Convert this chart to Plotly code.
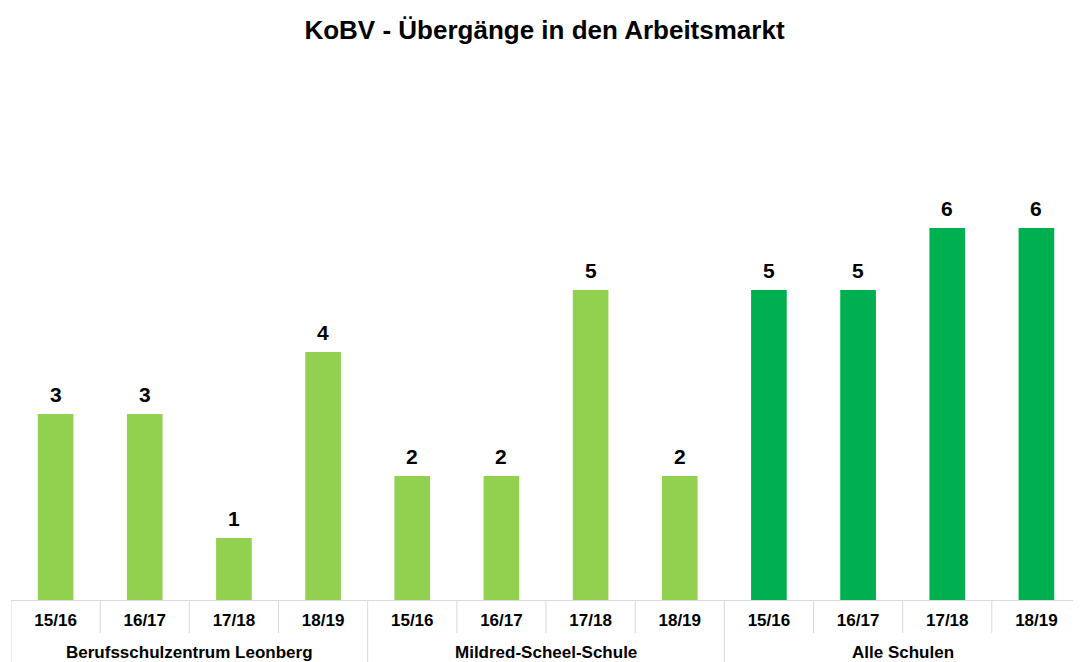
import plotly.graph_objects as go

# ---- data ----
groups = ["Berufsschulzentrum Leonberg", "Mildred-Scheel-Schule", "Alle Schulen"]
years = ["15/16", "16/17", "17/18", "18/19"]
values_bsz = [3, 3, 1, 4]
values_mss = [2, 2, 5, 2]
values_all = [5, 5, 6, 6]
title_text = "KoBV - Übergänge in den Arbeitsmarkt"

LIGHT = "#92D050"
DARK = "#00B050"
GRID = "#D9D9D9"
FONT = "Liberation Sans"

all_values = values_bsz + values_mss + values_all
tick_labels = years * len(groups)
xs = list(range(len(all_values)))
colors = [LIGHT] * 8 + [DARK] * 4

# page body has an 8px default margin, so the figure is sized to fill the rest
W, H = 1073, 654

fig = go.Figure()
fig.add_trace(go.Bar(
    x=xs, y=all_values, marker=dict(color=colors, line=dict(width=0)),
    width=0.4, hoverinfo="skip", showlegend=False,
))

# data labels
for x, v in zip(xs, all_values):
    fig.add_annotation(x=x, y=v, xref="x", yref="y", text=str(v), showarrow=False,
                       yanchor="middle", yshift=20,
                       font=dict(family=FONT, size=21, color="black", weight="bold"))

# group labels and separators
n = len(years)
y_inner = -0.0665
y_outer = -0.13
for gi, g in enumerate(groups):
    center = gi * n + (n - 1) / 2
    fig.add_annotation(x=center, y=-0.105, xref="x", yref="paper", text=g, showarrow=False,
                       yanchor="middle",
                       font=dict(family=FONT, size=17, color="black", weight="bold"))
for k in range(len(all_values) + 1):
    xb = k - 0.5
    full = (k % n == 0)
    fig.add_shape(type="line", xref="x", yref="paper", x0=xb, x1=xb, y0=0,
                  y1=y_outer if full else y_inner, line=dict(color=GRID, width=1))

fig.update_layout(
    width=W, height=H,
    margin=dict(l=3, r=0, t=96, b=62),
    paper_bgcolor="white", plot_bgcolor="white",
    title=dict(text=title_text, x=0.5, xanchor="center", y=1 - 22 / H, yanchor="middle",
               font=dict(family=FONT, size=26, color="black", weight="bold")),
    xaxis=dict(range=[-0.5, len(all_values) - 0.5], tickvals=xs, ticktext=tick_labels,
               ticks="", showgrid=False, zeroline=False, showline=True, linecolor=GRID,
               linewidth=1, ticklabelstandoff=5,
               tickfont=dict(family=FONT, size=17, color="black", weight="bold"),
               fixedrange=True),
    yaxis=dict(range=[0, 8], visible=False, fixedrange=True),
)

fig.write_html("out.html")
